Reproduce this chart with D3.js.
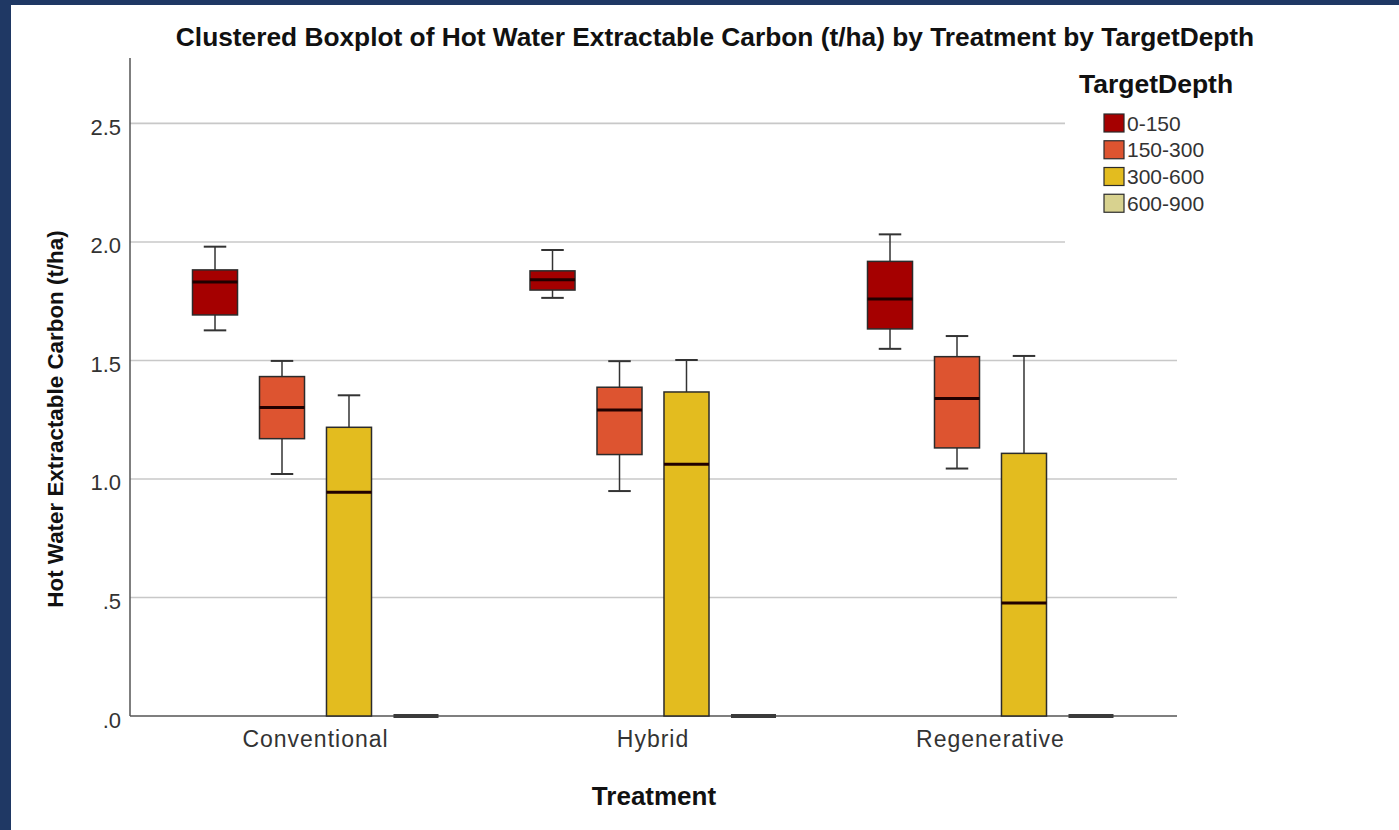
<!DOCTYPE html>
<html lang="en">
<head>
<meta charset="UTF-8">
<title>Clustered Boxplot of Hot Water Extractable Carbon</title>
<style>
    body { margin: 0; background: #1f3864; }
    svg { display: block; }
    .tick text { fill: #333; }
</style>
</head>
<body>
<div id="chart"></div>
<script src="https://d3js.org/d3.v7.min.js"></script>
<script>

    // data
    var treatments = ["Conventional", "Hybrid", "Regenerative"];
    var depths = ["0-150", "150-300", "300-600", "600-900"];
    var colors = ["#a50000", "#dd5430", "#e3bc1f", "#d8d28f"];

    // rows = treatment, columns = depth
    var whiskerHigh = [[1.980, 1.498, 1.353, 0], [1.966, 1.497, 1.502, 0], [2.032, 1.603, 1.519, 0]];
    var q3          = [[1.882, 1.432, 1.218, 0], [1.878, 1.387, 1.367, 0], [1.918, 1.516, 1.108, 0]];
    var median      = [[1.831, 1.302, 0.944, 0], [1.840, 1.291, 1.062, 0], [1.759, 1.340, 0.477, 0]];
    var q1          = [[1.692, 1.170, 0.000, 0], [1.797, 1.103, 0.000, 0], [1.633, 1.131, 0.000, 0]];
    var whiskerLow  = [[1.627, 1.021, 0.000, 0], [1.764, 0.949, 0.000, 0], [1.549, 1.044, 0.000, 0]];

    var yTicks = [0, 0.5, 1.0, 1.5, 2.0, 2.5];

    var width = 1399,
        height = 830;

    var svg = d3.select("#chart").append("svg")
        .attr("width", width)
        .attr("height", height);

    // navy frame + white panel
    svg.append("rect").attr("width", width).attr("height", height).attr("fill", "#1f3864");
    svg.append("rect").attr("x", 11).attr("y", 5).attr("width", width - 11).attr("height", height - 5).attr("fill", "#fff");

    var plotLeft = 130, plotRight = 1177, plotTop = 58, plotBottom = 716;
    var legendLeft = 1065, legendBottom = 250;

    var y = d3.scaleLinear()
        .domain([0, 2.776])
        .range([plotBottom, plotTop]);

    var x = d3.scaleBand()
        .domain(treatments)
        .range([146.75, 1159.25]);

    var xInner = d3.scaleBand()
        .domain(depths)
        .range([-123, 123])
        .paddingInner(0.328);

    var color = d3.scaleOrdinal().domain(depths).range(colors);

    // gridlines (the ones beside the legend stop short of it)
    svg.append("g")
        .selectAll("line")
        .data(yTicks.filter(function (d) { return d > 0; }))
        .enter().append("line")
        .attr("x1", plotLeft)
        .attr("x2", function (d) { return y(d) < legendBottom ? legendLeft : plotRight; })
        .attr("y1", function (d) { return y(d); })
        .attr("y2", function (d) { return y(d); })
        .attr("stroke", "#c8c8c8")
        .attr("stroke-width", 1.6);

    // axes lines
    svg.append("line").attr("x1", plotLeft).attr("x2", plotLeft).attr("y1", plotTop).attr("y2", plotBottom)
        .attr("stroke", "#555").attr("stroke-width", 1.5);
    svg.append("line").attr("x1", plotLeft).attr("x2", plotRight).attr("y1", plotBottom).attr("y2", plotBottom)
        .attr("stroke", "#555").attr("stroke-width", 1.5);

    var yAxis = svg.append("g")
        .attr("transform", "translate(" + plotLeft + ",0)")
        .call(d3.axisLeft(y)
            .tickValues(yTicks)
            .tickSize(0)
            .tickPadding(9)
            .tickFormat(function (d) { return d3.format(".1f")(d).replace(/^0/, ""); }));
    yAxis.select(".domain").remove();
    yAxis.selectAll("text")
        .attr("font-family", "Liberation Sans, Arial, sans-serif")
        .attr("font-size", "22px")
        .attr("dy", "0.5em");

    var xAxis = svg.append("g")
        .attr("transform", "translate(0," + plotBottom + ")")
        .call(d3.axisBottom(x).tickSize(0).tickPadding(15));
    xAxis.select(".domain").remove();
    xAxis.selectAll("text")
        .attr("font-family", "Liberation Sans, Arial, sans-serif")
        .attr("font-size", "23px")
        .attr("letter-spacing", "1px");

    // boxes
    var boxes = [];
    treatments.forEach(function (t, i) {
        depths.forEach(function (d, j) {
            boxes.push({
                treatment: t, depth: d,
                lo: whiskerLow[i][j], q1: q1[i][j], med: median[i][j],
                q3: q3[i][j], hi: whiskerHigh[i][j]
            });
        });
    });

    var bw = xInner.bandwidth();

    var box = svg.append("g")
        .selectAll("g")
        .data(boxes)
        .enter().append("g")
        .attr("transform", function (d) {
            return "translate(" + (x(d.treatment) + x.bandwidth() / 2 + xInner(d.depth)) + ",0)";
        });

    // whiskers
    box.append("line")
        .attr("x1", bw / 2).attr("x2", bw / 2)
        .attr("y1", function (d) { return y(d.hi); })
        .attr("y2", function (d) { return y(d.q3); })
        .attr("stroke", "#333").attr("stroke-width", 1.5);
    box.append("line")
        .attr("x1", bw / 2).attr("x2", bw / 2)
        .attr("y1", function (d) { return y(d.q1); })
        .attr("y2", function (d) { return y(d.lo); })
        .attr("stroke", "#333").attr("stroke-width", 1.5);
    box.filter(function (d) { return d.hi > d.q3; }).append("line")
        .attr("x1", bw / 4).attr("x2", bw * 3 / 4)
        .attr("y1", function (d) { return y(d.hi); })
        .attr("y2", function (d) { return y(d.hi); })
        .attr("stroke", "#333").attr("stroke-width", 2);
    box.filter(function (d) { return d.q1 > d.lo; }).append("line")
        .attr("x1", bw / 4).attr("x2", bw * 3 / 4)
        .attr("y1", function (d) { return y(d.lo); })
        .attr("y2", function (d) { return y(d.lo); })
        .attr("stroke", "#333").attr("stroke-width", 2);

    box.append("rect")
        .attr("x", 0)
        .attr("width", bw)
        .attr("y", function (d) { return y(d.q3); })
        .attr("height", function (d) { return y(d.q1) - y(d.q3); })
        .attr("fill", function (d) { return color(d.depth); })
        .attr("stroke", "#2b2b2b")
        .attr("stroke-width", 1.5);

    box.append("line")
        .attr("x1", 0).attr("x2", bw)
        .attr("y1", function (d) { return y(d.med); })
        .attr("y2", function (d) { return y(d.med); })
        .attr("stroke", function (d) { return d.q3 === d.q1 ? "#3a3a3a" : "#200000"; })
        .attr("stroke-width", function (d) { return d.q3 === d.q1 ? 4 : 3; });

    // titles
    svg.append("text")
        .attr("x", 715)
        .attr("y", 46)
        .attr("text-anchor", "middle")
        .attr("font-family", "Liberation Sans, Arial, sans-serif")
        .attr("font-weight", "bold")
        .attr("font-size", "26.3px")
        .attr("fill", "#111")
        .text("Clustered Boxplot of Hot Water Extractable Carbon (t/ha) by Treatment by TargetDepth");

    svg.append("text")
        .attr("x", 654)
        .attr("y", 805)
        .attr("text-anchor", "middle")
        .attr("font-family", "Liberation Sans, Arial, sans-serif")
        .attr("font-weight", "bold")
        .attr("font-size", "26px")
        .attr("fill", "#111")
        .text("Treatment");

    svg.append("text")
        .attr("transform", "translate(63,419) rotate(-90)")
        .attr("text-anchor", "middle")
        .attr("font-family", "Liberation Sans, Arial, sans-serif")
        .attr("font-weight", "bold")
        .attr("font-size", "22.4px")
        .attr("fill", "#111")
        .text("Hot Water Extractable Carbon (t/ha)");

    // legend
    var legendY = d3.scaleBand().domain(depths).range([113, 220]);
    var legend = svg.append("g");

    legend.append("text")
        .attr("x", 1079)
        .attr("y", 93)
        .attr("font-family", "Liberation Sans, Arial, sans-serif")
        .attr("font-weight", "bold")
        .attr("font-size", "26.5px")
        .attr("fill", "#111")
        .text("TargetDepth");

    legend.selectAll("rect")
        .data(depths)
        .enter().append("rect")
        .attr("x", 1104)
        .attr("y", function (d) { return legendY(d) + 1; })
        .attr("width", 20)
        .attr("height", 18)
        .attr("fill", function (d) { return color(d); })
        .attr("stroke", "#2b2b2b")
        .attr("stroke-width", 1.2);

    legend.selectAll(".lbl")
        .data(depths)
        .enter().append("text")
        .attr("class", "lbl")
        .attr("x", 1127)
        .attr("y", function (d) { return legendY(d) + 10; })
        .attr("dy", "0.36em")
        .attr("font-family", "Liberation Sans, Arial, sans-serif")
        .attr("font-size", "21px")
        .attr("fill", "#333")
        .text(function (d) { return d; });

</script>
</body>
</html>
